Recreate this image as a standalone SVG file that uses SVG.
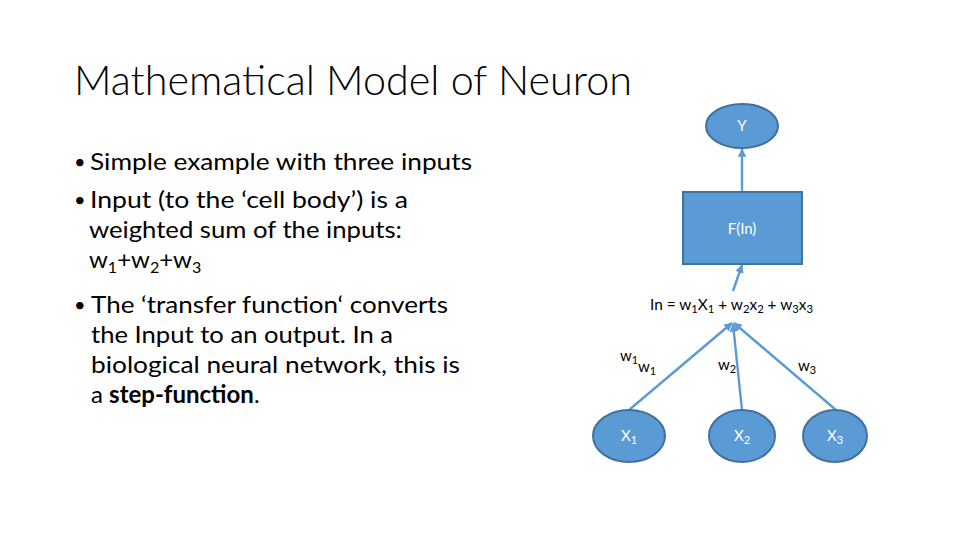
<svg xmlns="http://www.w3.org/2000/svg" width="960" height="540" viewBox="0 0 960 540">
<style>
.title{font-family:Lato,"Liberation Sans",sans-serif;font-weight:300;font-size:42px;fill:#000}
.body{font-family:Lato,"Liberation Sans",sans-serif;font-size:24px;fill:#000}
.bul{font-family:Lato,"Liberation Sans",sans-serif;font-size:20px;fill:#000}
.sub{font-size:16px}
.lbl{font-family:Lato,"Liberation Sans",sans-serif;font-size:15px;fill:#000}
.lsub{font-size:11px}
.wt{font-family:Lato,"Liberation Sans",sans-serif;font-size:15px;fill:#fff;text-anchor:middle}
.shape{fill:#5B9BD5;stroke:#41719C;stroke-width:2}
.conn{stroke:#5B9BD5;stroke-width:2.4;fill:none}
</style>
<defs>
<marker id="ah" viewBox="0 0 10 10" refX="9" refY="5" markerWidth="3.6" markerHeight="3.6" orient="auto" markerUnits="strokeWidth">
<path d="M0,0 L10,5 L0,10 z" fill="#5B9BD5"/>
</marker>
</defs>
<rect width="960" height="540" fill="#fff"/>
<text class="title" x="74" y="95" textLength="558" lengthAdjust="spacingAndGlyphs">Mathematical Model of Neuron</text>
<g id="bullets">
<text class="bul" x="74" y="169">•</text>
<text class="body" x="90" y="170" textLength="382" lengthAdjust="spacingAndGlyphs">Simple example with three inputs</text>
<text class="bul" x="74" y="207">•</text>
<text class="body" x="90" y="208" textLength="318" lengthAdjust="spacingAndGlyphs">Input (to the ‘cell body’) is a</text>
<text class="body" x="89" y="238" textLength="313" lengthAdjust="spacingAndGlyphs">weighted sum of the inputs:</text>
<text class="body" x="89" y="268">w<tspan class="sub" dy="5">1</tspan><tspan dy="-5">+w</tspan><tspan class="sub" dy="5">2</tspan><tspan dy="-5">+w</tspan><tspan class="sub" dy="5">3</tspan></text>
<text class="bul" x="74" y="312">•</text>
<text class="body" x="91" y="313" textLength="357" lengthAdjust="spacingAndGlyphs">The ‘transfer function‘ converts</text>
<text class="body" x="91" y="343" textLength="302" lengthAdjust="spacingAndGlyphs">the Input to an output. In a</text>
<text class="body" x="91" y="373" textLength="369" lengthAdjust="spacingAndGlyphs">biological neural network, this is</text>
<text class="body" x="91" y="403">a <tspan font-weight="bold">step-function</tspan>.</text>
</g>
<g id="connectors">
<line class="conn" x1="742" y1="192" x2="742" y2="149" marker-end="url(#ah)"/>
<line class="conn" x1="733" y1="291" x2="742" y2="265" marker-end="url(#ah)"/>
<line class="conn" x1="629" y1="410" x2="732" y2="323" marker-end="url(#ah)"/>
<line class="conn" x1="742" y1="410" x2="733" y2="324" marker-end="url(#ah)"/>
<line class="conn" x1="836" y1="410" x2="734" y2="323" marker-end="url(#ah)"/>
</g>
<g id="node-Y">
<ellipse class="shape" cx="742" cy="126" rx="36" ry="22"/>
<text class="wt" x="742" y="131">Y</text>
</g>
<g id="node-F">
<rect class="shape" x="683" y="192" width="119" height="72"/>
<text class="wt" x="742" y="234">F(In)</text>
</g>
<g id="formula">
<text class="lbl" x="650" y="310" textLength="163" lengthAdjust="spacingAndGlyphs">In = w<tspan class="lsub" dy="3">1</tspan><tspan dy="-3">X</tspan><tspan class="lsub" dy="3">1</tspan><tspan dy="-3"> + w</tspan><tspan class="lsub" dy="3">2</tspan><tspan dy="-3">x</tspan><tspan class="lsub" dy="3">2</tspan><tspan dy="-3"> + w</tspan><tspan class="lsub" dy="3">3</tspan><tspan dy="-3">x</tspan><tspan class="lsub" dy="3">3</tspan></text>
</g>
<g id="weights">
<text class="lbl" x="620" y="361">w<tspan class="lsub" dy="3">1</tspan></text>
<text class="lbl" x="638" y="372">w<tspan class="lsub" dy="3">1</tspan></text>
<text class="lbl" x="718" y="370">w<tspan class="lsub" dy="3">2</tspan></text>
<text class="lbl" x="798" y="371">w<tspan class="lsub" dy="3">3</tspan></text>
</g>
<g id="node-X1">
<ellipse class="shape" cx="629" cy="436" rx="36" ry="26"/>
<text class="wt" x="629" y="441">X<tspan class="lsub" dy="3">1</tspan></text>
</g>
<g id="node-X2">
<ellipse class="shape" cx="742" cy="436" rx="33" ry="26"/>
<text class="wt" x="742" y="441">X<tspan class="lsub" dy="3">2</tspan></text>
</g>
<g id="node-X3">
<ellipse class="shape" cx="835" cy="436" rx="32" ry="26"/>
<text class="wt" x="835" y="441">X<tspan class="lsub" dy="3">3</tspan></text>
</g>
</svg>
